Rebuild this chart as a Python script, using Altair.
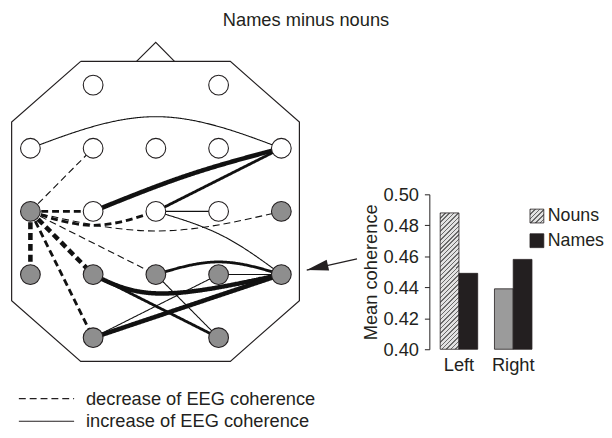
import altair as alt
import pandas as pd

FONT = "Liberation Sans"
INK = "#231f20"

title_text = "Names minus nouns"

# ---- electrodes (10-20 system), grid column / row ----
node_names = ["Fp1", "Fp2", "F7", "F3", "Fz", "F4", "F8", "T3", "C3", "Cz", "C4", "T4",
              "T5", "P3", "Pz", "P4", "T6", "O1", "O2"]
node_col = [1, 3, 0, 1, 2, 3, 4, 0, 1, 2, 3, 4, 0, 1, 2, 3, 4, 1, 3]
node_row = [0, 0, 1, 1, 1, 1, 1, 2, 2, 2, 2, 2, 3, 3, 3, 3, 3, 4, 4]
node_shade = ["open"] * 7 + ["shaded", "open", "open", "open", "shaded"] + ["shaded"] * 7

# ---- coherence changes ----
DEC = "decrease of EEG coherence"
INC = "increase of EEG coherence"
edge_from = ["F7", "C3", "Cz", "Cz", "Cz", "Pz", "P3", "P4", "P3", "Pz", "O1", "O1",
             "T3", "T3", "T3", "T3", "T3", "T3", "T3", "T3"]
edge_to = ["F8", "F8", "F8", "C4", "T6", "T6", "T6", "T6", "O2", "O2", "T6", "P4",
           "F3", "C3", "Cz", "T4", "T5", "P3", "O1", "Pz"]
edge_kind = [INC] * 12 + [DEC] * 8
edge_weight = [1, 3, 2, 1, 1, 2, 3, 1, 2, 1, 3, 1,
               1, 2, 2, 1, 3, 3, 2, 1]
# bend point of curved connections (grid units), None = straight
edge_mid_x = [2.0, 2.5, None, None, 3.05, 3.0, 2.1, None, None, None, None, None,
              None, None, 1.0, 2.0, None, None, None, None]
edge_mid_y = [0.5, 1.43, None, None, 2.38, 2.80, 3.30, None, None, None, None, None,
              None, None, 2.22, 2.31, None, None, None, None]

# ---- head outline (grid units) ----
head_x = [0.802, 3.187, 4.288, 4.288, 3.187, 0.802, -0.299, -0.299, 0.802]
head_y = [-0.375, -0.375, 0.584, 3.413, 4.375, 4.375, 3.413, 0.584, -0.375]
nose_x = [1.692, 1.998, 2.297]
nose_y = [-0.375, -0.677, -0.375]

# ---- arrow from the bar chart to T6 ----
arrow_x = [5.206, 4.405]
arrow_y = [2.75, 2.928]

# ---- bar chart ----
bar_side = ["Left", "Left", "Right", "Right"]
bar_series = ["Nouns", "Names", "Nouns", "Names"]
bar_value = [0.488, 0.449, 0.439, 0.458]
series_order = ["Nouns", "Names"]
y_ticks = [0.40, 0.42, 0.44, 0.46, 0.48, 0.50]

# ---------------- tables ----------------
pos = {n: (c, r) for n, c, r in zip(node_names, node_col, node_row)}
node_df = pd.DataFrame({"name": node_names, "x": node_col, "y": node_row, "shade": node_shade})

rows = []
for k in range(len(edge_from)):
    pts = [pos[edge_from[k]]]
    if edge_mid_x[k] is not None:
        pts.append((edge_mid_x[k], edge_mid_y[k]))
    pts.append(pos[edge_to[k]])
    for i, (px, py) in enumerate(pts):
        rows.append({"edge": k, "i": i, "x": px, "y": py,
                     "kind": edge_kind[k], "weight": edge_weight[k]})
edge_df = pd.DataFrame(rows)

outline_rows = [{"part": "head", "i": i, "x": a, "y": b} for i, (a, b) in enumerate(zip(head_x, head_y))]
outline_rows += [{"part": "nose", "i": i, "x": a, "y": b} for i, (a, b) in enumerate(zip(nose_x, nose_y))]
outline_df = pd.DataFrame(outline_rows)

arrow_df = pd.DataFrame({"i": [0, 1], "x": arrow_x, "y": arrow_y})
bar_df = pd.DataFrame({"side": bar_side, "series": bar_series, "value": bar_value})

# ---------------- styling helpers ----------------
FS = 18.5


def stripe_stops(n, frac, light, dark):
    stops = []
    for i in range(n):
        o0, o1, o2 = i / n, (i + frac) / n, (i + 1) / n
        stops += [(o0, dark), (o1, dark), (o1, light), (o2, light)]
    return stops

LIGHT, DARK = "#e2e2e2", "#6a6a6a"
bw, bh = 19.0, 138.0
kk = (bw + bh) / (bw * bw + bh * bh)
bar_grad = {
    "gradient": "linear", "x1": 0, "y1": 0, "x2": round(bw * kk, 4), "y2": round(bh * kk, 4),
    "stops": [{"offset": round(o, 4), "color": c} for o, c in stripe_stops(35, 0.33, LIGHT, DARK)],
}
sq_stops = ",".join("{offset:%.4f,color:'%s'}" % (o, c) for o, c in stripe_stops(6, 0.33, LIGHT, DARK))
legend_grad_expr = "{gradient:'linear',x1:0,y1:0,x2:1,y2:1,stops:[" + sq_stops + "]}"

GX = alt.Scale(domain=[0, 4], range=[22.7, 277.0], nice=False, zero=False)
GY = alt.Scale(domain=[0, 4], range=[75.3, 331.3], nice=False, zero=False)


def gx():
    return alt.X("x:Q", scale=GX, axis=None)


def gy():
    return alt.Y("y:Q", scale=GY, axis=None)


outline = alt.Chart(outline_df).mark_line(color=INK, strokeWidth=1.2).encode(
    x=gx(), y=gy(), detail="part:N", order="i:Q")

edges = alt.Chart(edge_df).mark_line(color="#111111", interpolate="natural", strokeCap="butt").encode(
    x=gx(), y=gy(), detail="edge:N", order="i:Q",
    strokeDash=alt.StrokeDash(
        "kind:N",
        scale=alt.Scale(domain=[DEC, INC], range=[[7, 4], [1, 0]]),
        legend=alt.Legend(title=None, orient="none", legendX=10, legendY=383,
                          symbolType="stroke", symbolSize=3136, symbolStrokeWidth=1.1,
                          symbolStrokeColor=INK, labelFontSize=FS, labelColor=INK,
                          labelFont=FONT, labelOffset=11, rowPadding=3, clipHeight=20,
                          padding=0, labelLimit=400)),
    strokeWidth=alt.StrokeWidth("weight:Q", scale=alt.Scale(domain=[1, 3], range=[1.1, 4.6]), legend=None),
)

nodes = alt.Chart(node_df).mark_circle(size=400, stroke=INK, strokeWidth=1.1, opacity=1).encode(
    x=gx(), y=gy(),
    fill=alt.Fill("shade:N", scale=alt.Scale(domain=["open", "shaded"], range=["#ffffff", "#8e8e8e"]),
                  legend=None),
)

arrow_line = alt.Chart(arrow_df).mark_line(color=INK, strokeWidth=1.3).encode(
    x=gx(), y=gy(), order="i:Q")
arrow_head = alt.Chart(arrow_df).transform_filter("datum.i == 1").mark_point(
    shape="M0,0L2,-0.5L2,0.5Z", filled=True, color=INK, size=484, angle=347, opacity=1
).encode(x=gx(), y=gy())

bars = alt.Chart(bar_df).mark_bar(stroke=INK, strokeWidth=0.8).encode(
    x=alt.X("side:N",
            scale=alt.Scale(range=[427, 542], paddingInner=0.309, paddingOuter=0.2),
            axis=alt.Axis(orient="bottom", offset=-79, domain=False, ticks=False, tickSize=0,
                          labelPadding=7, labelFontSize=FS, labelColor=INK, labelFont=FONT,
                          labelAngle=0, title=None)),
    xOffset=alt.XOffset("series:N", scale=alt.Scale(domain=series_order, paddingInner=0, paddingOuter=0)),
    y=alt.Y("value:Q",
            scale=alt.Scale(domain=[0.40, 0.50], range=[343, 186], nice=False, zero=False),
            axis=alt.Axis(orient="left", offset=-427, values=y_ticks, format=".2f", tickSize=5,
                          tickWidth=1, tickColor=INK, domainColor=INK, domainWidth=1,
                          labelFontSize=FS, labelColor=INK, labelFont=FONT, labelPadding=6,
                          title="Mean coherence", titleFontSize=FS, titleFontWeight="normal",
                          titleColor=INK, titleFont=FONT, titlePadding=3, grid=False)),
    y2=alt.Y2Datum(0.40),
    fill=alt.Fill(
        "series:N",
        scale=alt.Scale(domain=series_order, range=[{"expr": legend_grad_expr}, "#231f20"]),
        legend=alt.Legend(title=None, orient="none", legendX=527, legendY=198,
                          symbolType="square", symbolSize=196, symbolStrokeColor=INK,
                          symbolStrokeWidth=0.8, labelFontSize=18, labelColor=INK,
                          labelFont=FONT, labelOffset=2, rowPadding=5, clipHeight=20, padding=0),
        condition=[
            {"test": "datum.side == 'Left' && datum.series == 'Nouns'", "value": bar_grad},
            {"test": "datum.side == 'Right' && datum.series == 'Nouns'", "value": "#9b9b9b"},
        ],
    ),
)

chart = alt.layer(outline, edges, nodes, arrow_line, arrow_head, bars).resolve_scale(
    x="independent", y="independent", fill="independent"
).properties(
    width=604, height=422, padding=0,
    autosize=alt.AutoSizeParams(type="none"),
    title=alt.TitleParams(title_text, fontSize=18.5, fontWeight="normal", color=INK, font=FONT,
                          anchor="middle", frame="group", offset=-19),
).configure(font=FONT).configure_view(stroke=None)

chart.save("out.html", embed_options={"renderer": "svg", "actions": False})
